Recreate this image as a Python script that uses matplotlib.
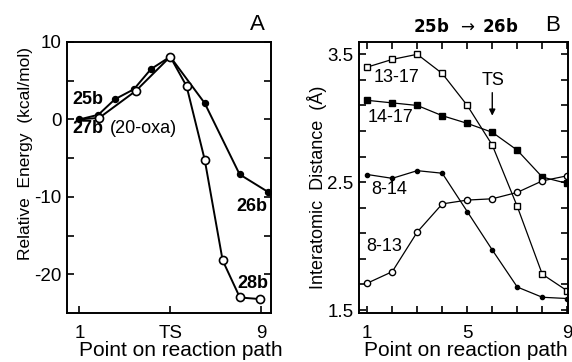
import numpy as np
import matplotlib
matplotlib.use("Agg")
import matplotlib.pyplot as plt
from matplotlib.ticker import FixedLocator, NullFormatter

plt.rcParams["font.family"] = ["Liberation Sans", "DejaVu Sans"]
plt.rcParams["axes.unicode_minus"] = False

# Panel A: energy profile along the reaction path
x_25b = [1.0, 1.83, 2.56, 3.40, 4.15, 5.0, 6.52, 8.06, 9.33]
e_25b = [0.0, 0.6, 2.6, 3.9, 6.5, 8.1, 2.1, -7.1, -9.4]
x_27b = [1.87, 3.49, 5.0, 5.72, 6.52, 7.31, 8.07, 8.95]
e_27b = [0.2, 3.7, 8.1, 4.3, -5.2, -18.2, -23.0, -23.2]
a_xticks = [1, 5, 9]
a_xticklabels = ["1", "TS", "9"]

# Panel B: interatomic distances, 25b -> 26b
points = [1, 2, 3, 4, 5, 6, 7, 8, 9]
d_13_17 = [3.40, 3.46, 3.50, 3.35, 3.10, 2.79, 2.31, 1.78, 1.65]
d_14_17 = [3.14, 3.12, 3.10, 3.02, 2.96, 2.89, 2.75, 2.54, 2.49]
d_8_14 = [2.56, 2.53, 2.59, 2.57, 2.27, 1.97, 1.68, 1.60, 1.59]
d_8_13 = [1.71, 1.80, 2.11, 2.33, 2.36, 2.37, 2.42, 2.51, 2.55]

fig = plt.figure(figsize=(5.72, 3.62), dpi=100)

# ---------- panel A ----------
ax = fig.add_axes([0.1171, 0.1354, 0.3566, 0.7486])
ax.plot([1.0, 1.87], [0.0, 0.2], color="black", lw=1.4, zorder=2)
ax.plot(x_25b, e_25b, color="black", lw=1.4, marker="o", ms=4.3,
        mfc="black", mec="black", zorder=3)
ax.plot(x_27b, e_27b, color="black", lw=1.4, marker="o", ms=5.8,
        mfc="white", mec="black", mew=1.2, zorder=4)
ax.set_xlim(0.45, 9.44)
ax.set_ylim(-25, 10)
ax.set_xticks(a_xticks)
ax.set_xticklabels(a_xticklabels)
ax.yaxis.set_major_locator(FixedLocator([10, 0, -10, -20]))
ax.yaxis.set_minor_locator(FixedLocator([5, -5, -15]))
ax.tick_params(axis="y", which="both", direction="in", left=True, right=True,
               length=5, width=1.2, labelsize=13.5, pad=4)
ax.tick_params(axis="x", direction="in", top=False, length=5, width=1.2,
               labelsize=13.5, pad=9)
for s in ax.spines.values():
    s.set_linewidth(1.4)
ax.set_xlabel("Point on reaction path", fontsize=15)
ax.xaxis.set_label_coords(0.56, -0.105)
ax.set_ylabel("Relative  Energy  (kcal/mol)", fontsize=12.5)
ax.yaxis.set_label_coords(-0.165, 0.59)

ax.text(0.67, 2.57, "25b", fontsize=13, fontweight="bold", va="center", ha="left")
ax.text(0.67, -1.16, "27b", fontsize=13, fontweight="bold", va="center", ha="left")
ax.text(2.35, -1.16, "(20-oxa)", fontsize=13, va="center", ha="left")
ax.text(9.28, -11.3, "26b", fontsize=13, fontweight="bold", va="center", ha="right")
ax.text(9.31, -21.2, "28b", fontsize=13, fontweight="bold", va="center", ha="right")
ax.text(0.97, 1.025, "A", transform=ax.transAxes, fontsize=16,
        ha="right", va="bottom")

# ---------- panel B ----------
bx = fig.add_axes([0.6276, 0.1354, 0.3659, 0.7478])
bx.plot(points, d_13_17, color="black", lw=0.9, marker="s", ms=5,
        mfc="white", mec="black", mew=1.0)
bx.plot(points, d_14_17, color="black", lw=0.9, marker="s", ms=5,
        mfc="black", mec="black")
bx.plot(points, d_8_14, color="black", lw=0.9, marker="o", ms=3,
        mfc="black", mec="black")
bx.plot(points, d_8_13, color="black", lw=0.9, marker="o", ms=4.5,
        mfc="white", mec="black", mew=1.0)
bx.set_xlim(0.67, 9.04)
bx.set_ylim(1.477, 3.594)
bx.xaxis.set_major_locator(FixedLocator([1, 5, 9]))
bx.xaxis.set_minor_locator(FixedLocator([2, 3, 4, 6, 7, 8]))
bx.yaxis.set_major_locator(FixedLocator([1.5, 2.5, 3.5]))
bx.yaxis.set_minor_locator(FixedLocator(np.arange(1.7, 3.4, 0.2)))
bx.yaxis.set_minor_formatter(NullFormatter())
bx.tick_params(axis="both", which="both", direction="in", left=True,
               right=True, top=True, bottom=True, length=5, width=1.2,
               labelsize=13.5)
bx.tick_params(axis="y", pad=4)
bx.tick_params(axis="x", pad=9)
for s in bx.spines.values():
    s.set_linewidth(1.4)
bx.set_xlabel("Point on reaction path", fontsize=15)
bx.xaxis.set_label_coords(0.51, -0.105)
bx.set_ylabel("Interatomic  Distance  (Å)", fontsize=13)
bx.yaxis.set_label_coords(-0.155, 0.465)

bx.text(1.27, 3.318, "13-17", fontsize=13, va="center", ha="left")
bx.text(1.03, 3.004, "14-17", fontsize=13, va="center", ha="left")
bx.text(1.18, 2.44, "8-14", fontsize=13, va="center", ha="left")
bx.text(0.95, 2.0, "8-13", fontsize=13, va="center", ha="left")
bx.text(6.03, 3.294, "TS", fontsize=13, va="center", ha="center")
bx.annotate("", xy=(6.0, 3.02), xytext=(6.0, 3.20),
            arrowprops=dict(arrowstyle="-|>", color="black", lw=1.0,
                            mutation_scale=9, shrinkA=0, shrinkB=0))
bx.text(0.51, 1.06, r"$\mathbf{25b}$  $\rightarrow$ $\mathbf{26b}$",
        transform=bx.transAxes, fontsize=12, ha="center", va="center")
bx.text(0.96, 1.025, "B", transform=bx.transAxes, fontsize=16,
        ha="right", va="bottom")

fig.savefig("out.png", dpi=100)
